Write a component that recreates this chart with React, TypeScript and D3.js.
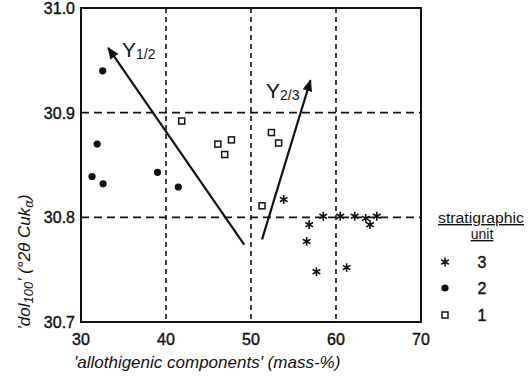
import React, { useRef, useEffect } from "react";
import * as d3 from "d3";

// stratigraphic unit 1 (open squares)
const unit1X = [41.85, 46.1, 47.7, 46.9, 52.4, 53.25, 51.3];
const unit1Y = [30.892, 30.870, 30.874, 30.860, 30.881, 30.871, 30.811];
// unit 2 (filled dots)
const unit2X = [32.55, 31.9, 31.3, 32.6, 39.0, 41.45];
const unit2Y = [30.940, 30.870, 30.839, 30.832, 30.843, 30.829];
// unit 3 (asterisks)
const unit3X = [53.85, 56.85, 58.5, 56.55, 57.7, 60.5, 62.2, 63.5, 64.0, 64.8, 61.25];
const unit3Y = [30.817, 30.793, 30.801, 30.777, 30.748, 30.801, 30.801, 30.799, 30.793, 30.801, 30.752];

// trend arrows
const arrows = [
  { name: "1/2", from: [49.2, 30.774], to: [33.2, 30.962] },
  { name: "2/3", from: [51.3, 30.779], to: [57.0, 30.931] },
];

const xTicks = [30, 40, 50, 60, 70];
const yTicks = [30.7, 30.8, 30.9, 31.0];
const legendUnits = ["3", "2", "1"];

const FONT = "'Liberation Sans', Arial, sans-serif";
const INK = "#111";

export default function App() {
  const svgRef = useRef<SVGSVGElement>(null);

  useEffect(() => {
    const width = 528;
    const height = 383;
    const svg = d3.select(svgRef.current)
      .attr("width", width)
      .attr("height", height)
      .attr("viewBox", [0, 0, width, height].join(" "))
      .style("display", "block")
      .style("position", "absolute")
      .style("left", "0px")
      .style("top", "0px")
      .style("background", "#fff");

    svg.selectAll("*").remove();

    const x = d3.scaleLinear().domain([30, 70]).range([81, 421]);
    const y = d3.scaleLinear().domain([30.7, 31.0]).range([322, 8]);

    const defs = svg.append("defs");
    defs.append("marker")
      .attr("id", "head")
      .attr("viewBox", "0 0 12 10")
      .attr("refX", 11)
      .attr("refY", 5)
      .attr("markerWidth", 5.5)
      .attr("markerHeight", 4.5)
      .attr("markerUnits", "strokeWidth")
      .attr("orient", "auto")
      .append("path")
      .attr("d", "M0,0 L12,5 L0,10 Z")
      .attr("fill", INK);

    // grid
    const grid = svg.append("g").attr("stroke", INK).attr("stroke-width", 1.6);
    grid.selectAll("line.v")
      .data(xTicks.slice(1, -1))
      .join("line")
      .attr("x1", d => x(d)).attr("x2", d => x(d))
      .attr("y1", y(31.0)).attr("y2", y(30.7))
      .attr("stroke-dasharray", "5,4");
    grid.selectAll("line.h")
      .data(yTicks.slice(1, -1))
      .join("line")
      .attr("y1", d => y(d)).attr("y2", d => y(d))
      .attr("x1", x(30)).attr("x2", x(70))
      .attr("stroke-dasharray", "8,5");

    // frame
    svg.append("rect")
      .attr("x", x(30)).attr("y", y(31.0))
      .attr("width", x(70) - x(30)).attr("height", y(30.7) - y(31.0))
      .attr("fill", "none").attr("stroke", INK).attr("stroke-width", 2);

    // tick labels
    svg.append("g")
      .attr("font-family", FONT).attr("font-size", 16).attr("fill", INK)
      .attr("stroke", INK).attr("stroke-width", 0.4)
      .attr("text-anchor", "middle")
      .selectAll("text")
      .data(xTicks)
      .join("text")
      .attr("x", d => x(d))
      .attr("y", 345)
      .text(d => d);
    svg.append("g")
      .attr("font-family", FONT).attr("font-size", 16).attr("fill", INK)
      .attr("stroke", INK).attr("stroke-width", 0.4)
      .attr("text-anchor", "end")
      .selectAll("text")
      .data(yTicks)
      .join("text")
      .attr("x", 75)
      .attr("y", d => y(d) + 6)
      .text(d => d.toFixed(1));

    // axis titles
    svg.append("text")
      .attr("x", 74).attr("y", 368)
      .attr("font-family", FONT).attr("font-size", 17).attr("font-style", "italic")
      .attr("fill", INK)
      .text("'allothigenic components' (mass-%)");

    const yl = svg.append("text")
      .attr("transform", "translate(30,262) rotate(-90)")
      .attr("text-anchor", "middle")
      .attr("font-family", FONT).attr("font-size", 17).attr("font-style", "italic")
      .attr("fill", INK);
    yl.append("tspan").text("'dol");
    yl.append("tspan").attr("font-size", 13).attr("dy", 3).text("100");
    yl.append("tspan").attr("dy", -3).text("' (°2");
    yl.append("tspan").text("θ Cuk");
    yl.append("tspan").attr("font-size", 13).attr("dy", 3).text("α");
    yl.append("tspan").attr("dy", -3).text(")");

    // arrows
    arrows.forEach(a => {
      svg.append("line")
        .attr("x1", x(a.from[0])).attr("y1", y(a.from[1]))
        .attr("x2", x(a.to[0])).attr("y2", y(a.to[1]))
        .attr("stroke", INK).attr("stroke-width", 2.2)
        .attr("marker-end", "url(#head)");
    });
    const arrowLabel = (px: number, py: number, sub: string) => {
      const t = svg.append("text")
        .attr("x", px).attr("y", py)
        .attr("font-family", FONT).attr("font-size", 21).attr("fill", INK);
      t.append("tspan").text("Y");
      t.append("tspan").attr("font-size", 14).attr("dy", 2).text(sub);
    };
    arrowLabel(122, 57, arrows[0].name);
    arrowLabel(266, 98, arrows[1].name);

    // points
    const star = d3.symbol().type(d3.symbolAsterisk).size(55);
    svg.append("g")
      .selectAll("path")
      .data(unit3X.map((v, i) => [v, unit3Y[i]]))
      .join("path")
      .attr("transform", d => `translate(${x(d[0])},${y(d[1])})`)
      .attr("d", star())
      .attr("fill", "none").attr("stroke", INK).attr("stroke-width", 1.6);

    svg.append("g")
      .selectAll("circle")
      .data(unit2X.map((v, i) => [v, unit2Y[i]]))
      .join("circle")
      .attr("cx", d => x(d[0])).attr("cy", d => y(d[1]))
      .attr("r", 3.6)
      .attr("fill", INK);

    svg.append("g")
      .selectAll("rect")
      .data(unit1X.map((v, i) => [v, unit1Y[i]]))
      .join("rect")
      .attr("x", d => x(d[0]) - 3).attr("y", d => y(d[1]) - 3)
      .attr("width", 6).attr("height", 6)
      .attr("fill", "#fff").attr("stroke", INK).attr("stroke-width", 1.5);

    // legend
    const lg = svg.append("g").attr("font-family", FONT).attr("fill", INK);
    lg.append("text").attr("x", 481).attr("y", 223).attr("text-anchor", "middle")
      .attr("font-size", 14).attr("textLength", 86).attr("lengthAdjust", "spacingAndGlyphs")
      .attr("text-decoration", "underline").text("stratigraphic");
    lg.append("text").attr("x", 482).attr("y", 239).attr("text-anchor", "middle")
      .attr("font-size", 14).attr("text-decoration", "underline").text("unit");
    const ly = [262, 288, 315];
    legendUnits.forEach((u, i) => {
      lg.append("text").attr("x", 482).attr("y", ly[i] + 6).attr("text-anchor", "middle")
        .attr("font-size", 16).attr("stroke", INK).attr("stroke-width", 0.4).text(u);
    });
    lg.append("path").attr("transform", `translate(445,${ly[0]})`).attr("d", star())
      .attr("fill", "none").attr("stroke", INK).attr("stroke-width", 1.6);
    lg.append("circle").attr("cx", 445).attr("cy", ly[1]).attr("r", 3.6).attr("fill", INK);
    lg.append("rect").attr("x", 442).attr("y", ly[2] - 3).attr("width", 6).attr("height", 6)
      .attr("fill", "#fff").attr("stroke", INK).attr("stroke-width", 1.5);
  }, []);

  return <svg ref={svgRef}></svg>;
}
